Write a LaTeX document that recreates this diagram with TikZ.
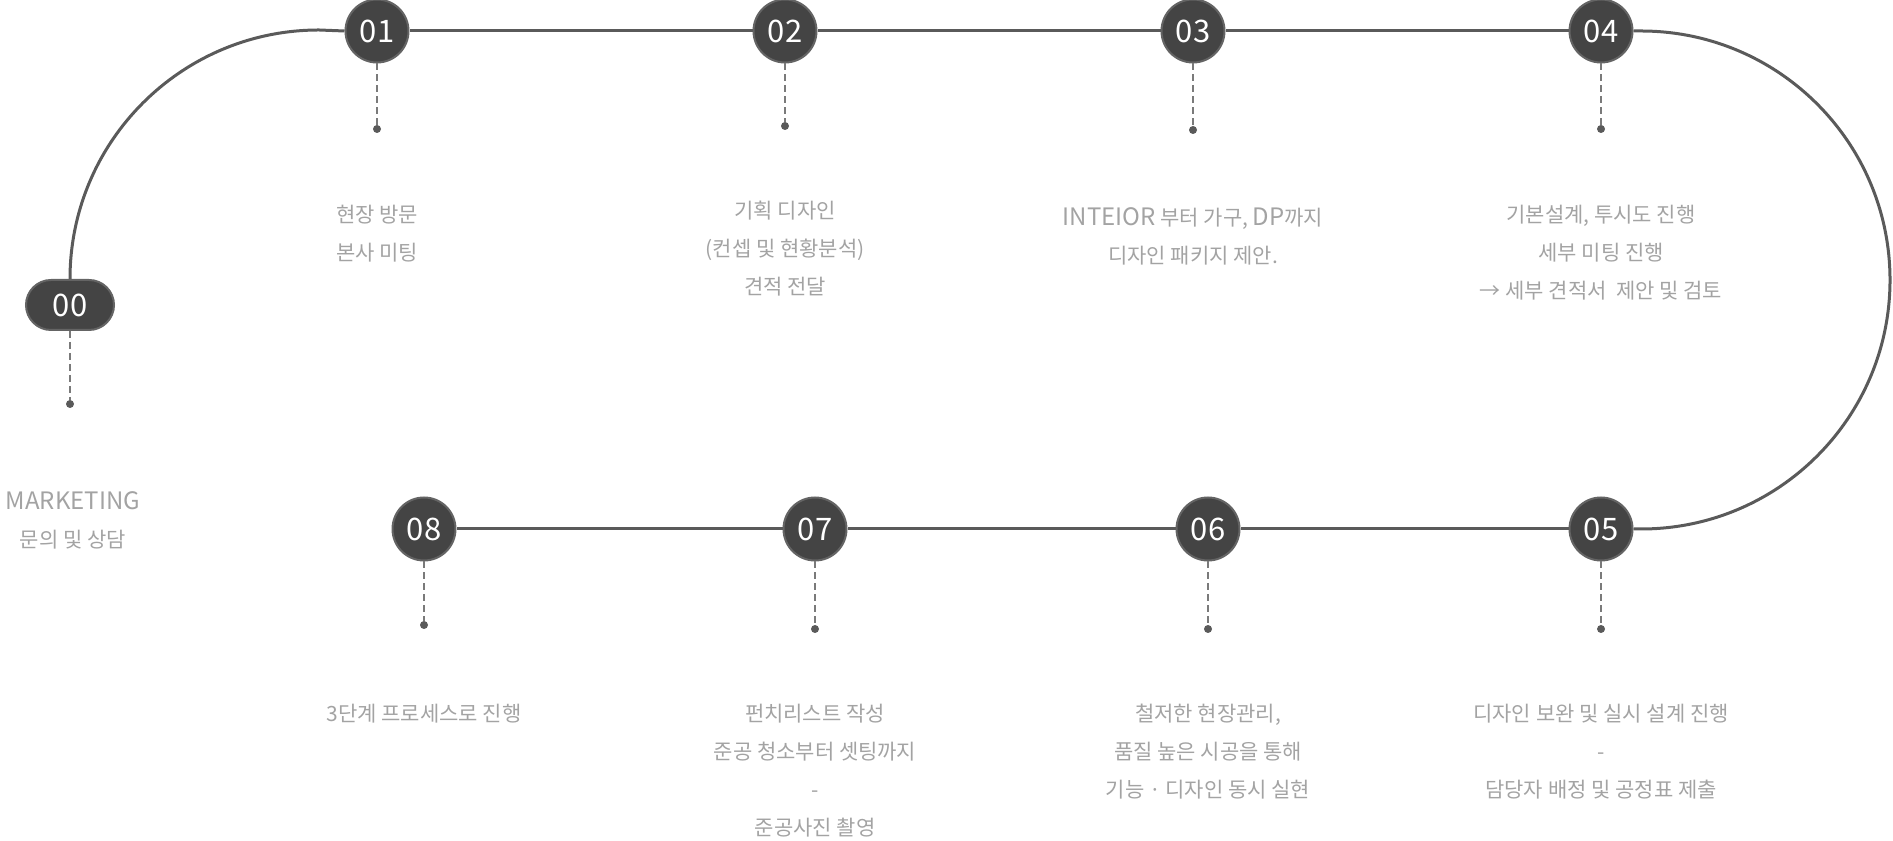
\documentclass[tikz,border=0pt]{standalone}
\usepackage{fontspec}
\setmainfont{Noto Sans CJK KR}
\definecolor{trackgray}{HTML}{5A5A5A}
\definecolor{ballgray}{HTML}{444444}
\definecolor{rimgray}{HTML}{646464}
\definecolor{notegray}{HTML}{A3A3A3}
\definecolor{dashgray}{HTML}{7A7A7A}
\newcommand\latin[1]{{\fontsize{12}{19}\selectfont #1}}
\begin{document}
\begin{tikzpicture}[x=0.5pt,y=0.5pt,
  track/.style={line width=1.5pt,trackgray},
  ball/.style={circle,fill=ballgray,draw=rimgray,line width=1pt,minimum size=31.5pt,inner sep=0pt,text=white,font=\fontsize{15.5}{15.5}\selectfont},
  pill/.style={rectangle,rounded corners=12.5pt,fill=ballgray,draw=rimgray,line width=1pt,minimum width=44pt,minimum height=25pt,inner sep=0pt,text=white,font=\fontsize{15.5}{15.5}\selectfont},
  pin/.style={circle,fill=trackgray,minimum size=4pt,inner sep=0pt},
  leader/.style={dashgray,line width=0.6pt,dash pattern=on 3.5pt off 2pt},
  note/.style={align=center,text=notegray,font=\fontsize{10.5}{19}\selectfont}]
  \useasboundingbox (0,0) rectangle (1893,840);
  \node[pill] (n0) at (70,535) {00};
  \node[ball] (n1) at (377,809) {01};
  \node[ball] (n2) at (785,809) {02};
  \node[ball] (n3) at (1193,809) {03};
  \node[ball] (n4) at (1601,809) {04};
  \node[ball] (n5) at (1601,311) {05};
  \node[ball] (n6) at (1208,311) {06};
  \node[ball] (n7) at (815,311) {07};
  \node[ball] (n8) at (424,311) {08};
  \coordinate (tr) at (1641,809);
  \draw[track] (n0.north) arc[start angle=180,end angle=90,radius=124.5pt] -- (n1.west);
  \draw[track] (n1.east) -- (n2.west);
  \draw[track] (n2.east) -- (n3.west);
  \draw[track] (n3.east) -- (n4.west);
  \draw[track] (n4.east) -- (tr) arc[start angle=90,end angle=-90,radius=124.5pt] -- (n5.east);
  \draw[track] (n5.west) -- (n6.east);
  \draw[track] (n6.west) -- (n7.east);
  \draw[track] (n7.west) -- (n8.east);
  \node[pin] (d0) at (70,436) {};
  \node[pin] (d1) at (377,711) {};
  \node[pin] (d2) at (785,714) {};
  \node[pin] (d3) at (1193,710) {};
  \node[pin] (d4) at (1601,711) {};
  \node[pin] (d5) at (1601,211) {};
  \node[pin] (d6) at (1208,211) {};
  \node[pin] (d7) at (815,211) {};
  \node[pin] (d8) at (424,215) {};
  \draw[leader] (n0.south) -- (d0);
  \draw[leader] (n1.south) -- (d1);
  \draw[leader] (n2.south) -- (d2);
  \draw[leader] (n3.south) -- (d3);
  \draw[leader] (n4.south) -- (d4);
  \draw[leader] (n5.south) -- (d5);
  \draw[leader] (n6.south) -- (d6);
  \draw[leader] (n7.south) -- (d7);
  \draw[leader] (n8.south) -- (d8);
  \node[note] (t0) at (73,320) {\latin{MARKETING}\\문의 및 상담};
  \node[note] (t1) at (377,606) {현장 방문\\본사 미팅};
  \node[note] (t2) at (785,591) {기획 디자인\\(컨셉 및 현황분석)\\견적 전달};
  \node[note] (t3) at (1193,604) {\latin{INTEIOR} 부터 가구, \latin{DP}까지\\디자인 패키지 제안.};
  \node[note] (t4) at (1601,587) {기본설계, 투시도 진행\\세부 미팅 진행\\→ 세부 견적서\ \ 제안 및 검토};
  \node[note] (t5) at (1601,88) {디자인 보완 및 실시 설계 진행\\-\\담당자 배정 및 공정표 제출};
  \node[note] (t6) at (1208,88) {철저한 현장관리,\\품질 높은 시공을 통해\\기능 · 디자인 동시 실현};
  \node[note] (t7) at (815,69) {펀치리스트 작성\\준공 청소부터 셋팅까지\\-\\준공사진 촬영};
  \node[note] (t8) at (424,126) {3단계 프로세스로 진행};
\end{tikzpicture}
\end{document}
